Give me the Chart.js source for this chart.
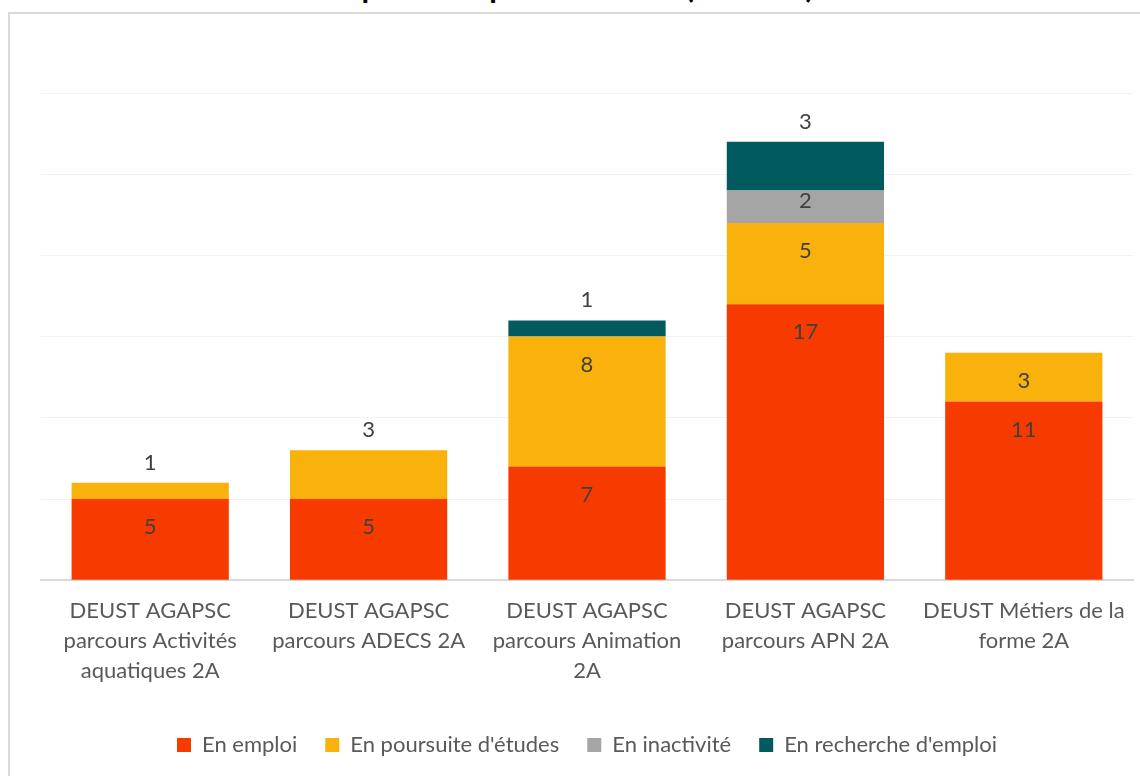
<!DOCTYPE html>
<html lang="fr">
<head>
<meta charset="UTF-8">
<title>Répartition par formation</title>
<script src="https://cdn.jsdelivr.net/npm/chart.js"></script>
<style>
    body { margin: 0; background: #ffffff; overflow: hidden; }
    .wrap { position: relative; width: 1140px; height: 776px; overflow: hidden; }
    .frame {
        position: absolute; left: 8px; top: 12px; width: 1160px; height: 800px;
        border: 2px solid #d9d9d9; box-sizing: border-box;
    }
    .title {
        position: absolute; left: 0; width: 1140px; top: -33px; text-align: center;
        font-family: Lato, sans-serif; font-weight: bold; font-size: 31px; color: #000;
    }
    canvas { position: absolute; left: 0; top: 0; }
</style>
</head>
<body>
<div class="wrap">
    <div class="title">Répartition par formation (effectifs)</div>
    <div class="frame"></div>
    <canvas id="chart" width="1140" height="776"></canvas>
</div>
<script>
const categories = [
    ['DEUST AGAPSC', 'parcours Activités', 'aquatiques 2A'],
    ['DEUST AGAPSC', 'parcours ADECS 2A'],
    ['DEUST AGAPSC', 'parcours Animation', '2A'],
    ['DEUST AGAPSC', 'parcours APN 2A'],
    ['DEUST Métiers de la', 'forme 2A']
];
const enEmploi = [5, 5, 7, 17, 11];
const enPoursuite = [1, 3, 8, 5, 3];
const enInactivite = [null, null, null, 2, null];
const enRecherche = [null, null, 1, 3, null];

// labels drawn above the bar rather than inside (dataset index, point index)
const aboveLabels = ['1-0', '1-1', '3-2', '3-3'];

const labelPlugin = {
    id: 'segLabels',
    afterDatasetsDraw(chart) {
        const ctx = chart.ctx;
        ctx.save();
        ctx.font = '22px Lato, sans-serif';
        ctx.fillStyle = '#404040';
        ctx.textAlign = 'center';
        ctx.textBaseline = 'middle';
        chart.data.datasets.forEach((ds, di) => {
            const meta = chart.getDatasetMeta(di);
            meta.data.forEach((el, i) => {
                const v = ds.data[i];
                if (v === null || v === undefined) return;
                const h = el.base - el.y;
                let y;
                if (aboveLabels.includes(di + '-' + i)) {
                    y = el.y - 20;
                } else {
                    y = el.y + (h >= 40 ? 28 : h / 2 - 6);
                }
                ctx.fillText(String(v), el.x, y);
            });
        });
        ctx.restore();
    }
};

new Chart(document.getElementById('chart'), {
    type: 'bar',
    data: {
        labels: categories,
        datasets: [
            { label: 'En emploi', data: enEmploi, backgroundColor: '#f73b00' },
            { label: "En poursuite d'études", data: enPoursuite, backgroundColor: '#f9b10b' },
            { label: 'En inactivité', data: enInactivite, backgroundColor: '#a5a5a5' },
            { label: "En recherche d'emploi", data: enRecherche, backgroundColor: '#005a5e' }
        ]
    },
    options: {
        responsive: false,
        animation: false,
        categoryPercentage: 0.72,
        barPercentage: 1,
        layout: { padding: { left: 41, right: 7, top: 93, bottom: 10 } },
        scales: {
            x: {
                stacked: true,
                grid: { display: false },
                border: { display: true, color: '#d9d9d9', width: 2 },
                ticks: {
                    color: '#595959',
                    font: { family: 'Lato, sans-serif', size: 22, lineHeight: 1.36 },
                    maxRotation: 0,
                    padding: 8
                },
                afterFit(scale) { scale.height += 12; }
            },
            y: {
                stacked: true,
                min: 0,
                max: 30,
                ticks: { stepSize: 5, display: false },
                grid: { color: '#f2f2f2', drawTicks: false },
                border: { display: false }
            }
        },
        plugins: {
            legend: {
                position: 'bottom',
                labels: {
                    color: '#595959',
                    font: { family: 'Lato, sans-serif', size: 22 },
                    boxWidth: 14,
                    boxHeight: 14,
                    padding: 28
                }
            },
            tooltip: { enabled: false }
        }
    },
    plugins: [labelPlugin]
});
</script>
</body>
</html>
